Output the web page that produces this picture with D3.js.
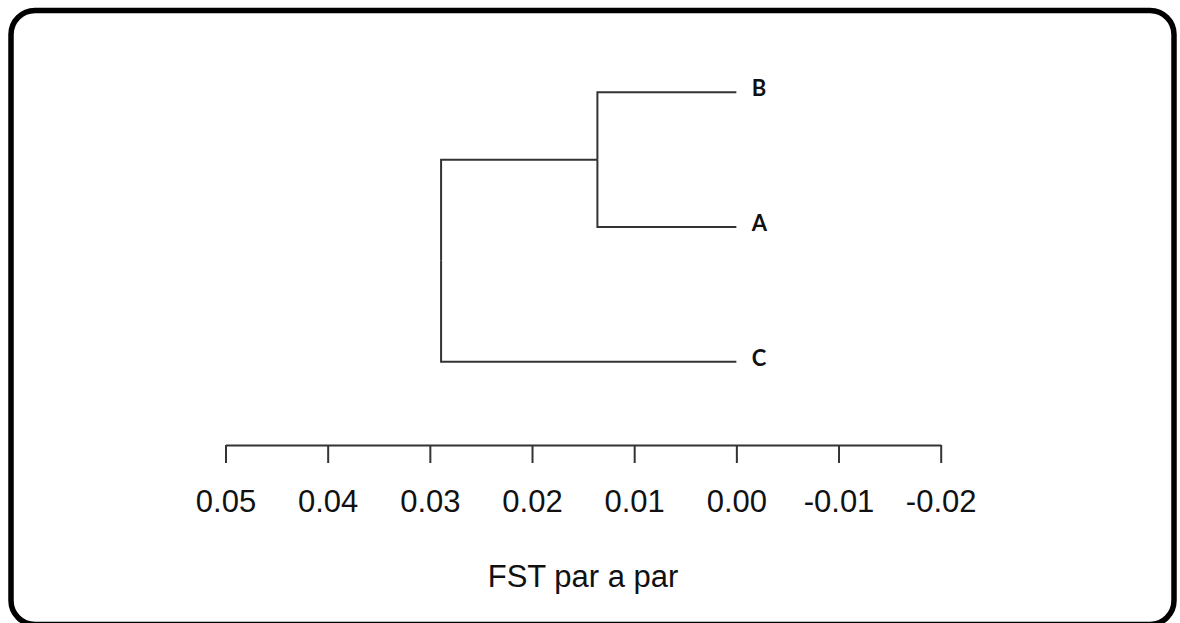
<!DOCTYPE html>
<html>
<head>
<meta charset="utf-8">
<script src="https://cdn.jsdelivr.net/npm/d3@7"></script>
<style>
  html, body { margin: 0; padding: 0; background: #fff; }
  svg { display: block; }
</style>
</head>
<body>
<svg id="chart" width="1180" height="623"></svg>
<script>
// ---- data ----
const leafOrder = ["B", "A", "C"];               // top to bottom
const mergeLeft = ["B", "BA"];                    // merges: left child
const mergeRight = ["A", "C"];                    // merges: right child
const mergeNames = ["BA", "root"];
const mergeHeights = [0.0136, 0.0289];            // FST at which clusters join
const tickValues = [0.05, 0.04, 0.03, 0.02, 0.01, 0.00, -0.01, -0.02];
const axisTitle = "FST par a par";

// ---- build hierarchy ----
const nodes = {};
leafOrder.forEach(n => nodes[n] = { name: n, height: 0 });
mergeNames.forEach((m, i) => {
  nodes[m] = { name: m, height: mergeHeights[i], children: [nodes[mergeLeft[i]], nodes[mergeRight[i]]] };
});
const root = d3.hierarchy(nodes["root"]);

const svg = d3.select("#chart");

// frame
svg.append("rect")
  .attr("x", 11).attr("y", 10.5)
  .attr("width", 1163).attr("height", 614)
  .attr("rx", 24).attr("ry", 24)
  .attr("fill", "none").attr("stroke", "#000").attr("stroke-width", 5.5);

const x = d3.scaleLinear().domain([0.05, -0.02]).range([225.5, 940.7]);
const y = d3.scalePoint().domain(leafOrder).range([92.3, 361.7]);

// positions: leaves from point scale, internal nodes at mean of children
root.eachAfter(n => {
  n.px = x(n.data.height);
  n.py = n.children ? d3.mean(n.children, c => c.py) : y(n.data.name);
});

const g = svg.append("g");
g.selectAll("path.link")
  .data(root.descendants().filter(d => d.parent))
  .join("path")
  .attr("class", "link")
  .attr("fill", "none")
  .attr("stroke", "#333")
  .attr("stroke-width", 2)
  .attr("d", d => `M${d.parent.px},${d.parent.py}V${d.py}H${d.px}`);

g.selectAll("text.leaf")
  .data(root.leaves())
  .join("text")
  .attr("class", "leaf")
  .attr("x", d => d.px + 15.5)
  .attr("y", d => d.py + 3.8)
  .attr("font-family", "Lato, 'Open Sans', sans-serif")
  .attr("font-weight", "bold")
  .attr("font-size", 22)
  .attr("fill", "#111")
  .text(d => d.data.name);

// axis
const axis = d3.axisBottom(x)
  .tickValues(tickValues)
  .tickSize(18)
  .tickSizeOuter(0)
  .tickPadding(27)
  .tickFormat(d => d.toFixed(2));

const ax = svg.append("g").attr("transform", "translate(0,445)").call(axis);
ax.select(".domain").attr("stroke", "#333").attr("stroke-width", 2);
ax.selectAll(".tick line").attr("stroke", "#333").attr("stroke-width", 2);
ax.selectAll(".tick text")
  .attr("font-family", "'Liberation Sans', Arial, sans-serif")
  .attr("font-size", 31)
  .attr("fill", "#111");

svg.append("text")
  .attr("x", (x.range()[0] + x.range()[1]) / 2)
  .attr("y", 587)
  .attr("text-anchor", "middle")
  .attr("font-family", "'Liberation Sans', Arial, sans-serif")
  .attr("font-size", 31)
  .attr("fill", "#111")
  .text(axisTitle);
</script>
</body>
</html>
